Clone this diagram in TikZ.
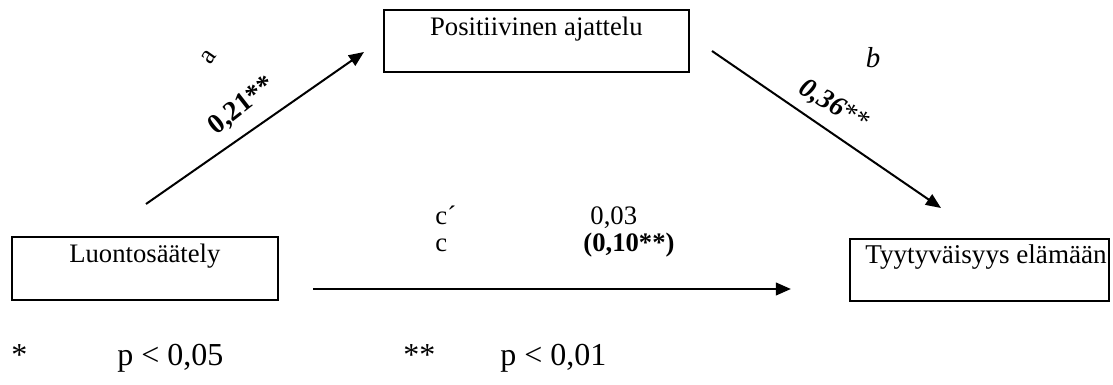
\documentclass[tikz,border=0pt]{standalone}
\usepackage{fontspec}
\setmainfont{Liberation Serif}
\usetikzlibrary{arrows.meta}
\tikzset{
  boxnode/.style={draw, line width=0.8pt, inner sep=0pt, anchor=north west},
  arr/.style={line width=0.9pt, -{Triangle[length=6.8pt,width=5.6pt]}},
  lbl/.style={inner sep=0pt, font=\fontsize{12}{14}\selectfont},
  foot/.style={inner sep=0pt, anchor=base west, font=\fontsize{14.4}{17}\selectfont}
}
\begin{document}
\begin{tikzpicture}[x=0.45pt,y=-0.45pt]
\useasboundingbox (0,0) rectangle (1113,385);
% boxes
\node[boxnode] (P) at (383,9) {\parbox[c][27.9pt][t]{137.25pt}{\centering\fontsize{12}{14}\selectfont\rule{0pt}{11.7pt}Positiivinen ajattelu}};
\node[boxnode] (L) at (11,236) {\parbox[c][28.35pt][t]{119.7pt}{\centering\fontsize{12}{14}\selectfont\rule{0pt}{11.7pt}Luontosäätely}};
\node[boxnode] (T) at (849,238) {\parbox[c][27.9pt][t]{116.55pt}{\centering\fontsize{12.2}{14}\selectfont\rule{0pt}{11.25pt}\hspace*{6pt}Tyytyväisyys elämään}};
% arrow end points
\coordinate (aS) at (146,204);
\coordinate (aE) at (364,52);
\coordinate (bS) at (712,51);
\coordinate (bE) at (941,208);
\coordinate (cS) at (313,289);
\coordinate (cE) at (791,289);
\draw[arr] (aS) -- (aE);
\draw[arr] (bS) -- (bE);
\draw[arr, line width=1.2pt] (cS) -- (cE);
% labels
\node[lbl, rotate=55] (la) at (209,57) {a};
\node[lbl, rotate=38, font=\fontsize{12.5}{14}\selectfont] (la2) at (242,106) {\textbf{0,21**}};
\node[lbl, font=\fontsize{13}{14}\selectfont] (lb) at (873,58) {\textit{b}};
\node[lbl, rotate=-31, font=\fontsize{12.5}{14}\selectfont] (lb2) at (834,106) {\textbf{\textit{0,36}}**};
\node[lbl, anchor=base west] (lc1) at (435,225) {c´};
\node[lbl, anchor=base west] (lv1) at (590,225) {0,03};
\node[lbl, anchor=base west] (lc2) at (435,252) {c};
\node[lbl, anchor=base west] (lv2) at (583,252) {\textbf{(0,10**)}};
% footer
\node[foot] (f1) at (11,366) {*};
\node[foot] (f2) at (117,366) {p < 0,05};
\node[foot] (f3) at (403,366) {**};
\node[foot] (f4) at (500,366) {p < 0,01};
\end{tikzpicture}
\end{document}
